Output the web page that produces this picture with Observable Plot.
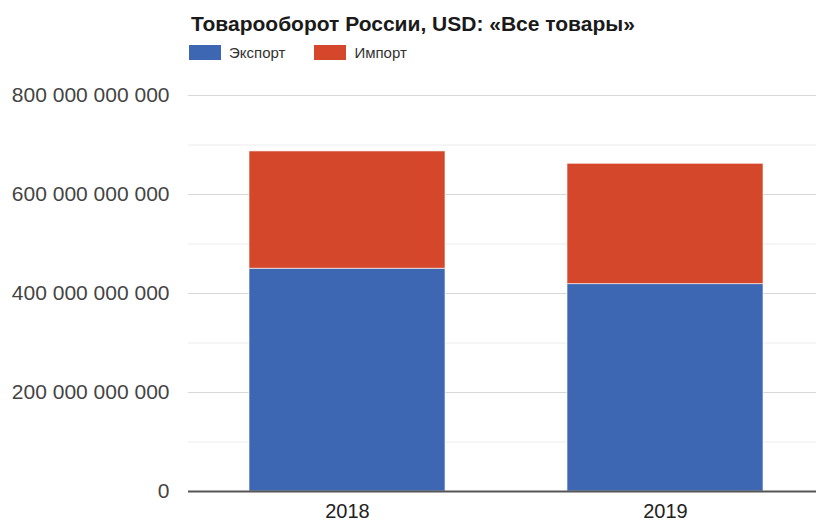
<!DOCTYPE html>
<html>
<head>
<meta charset="utf-8">
<script src="https://cdn.jsdelivr.net/npm/d3@7"></script>
<script src="https://cdn.jsdelivr.net/npm/@observablehq/plot@0.6"></script>
<style>
  html, body { margin: 0; padding: 0; background: #fff; overflow: hidden; }
  #wrap { position: relative; width: 816px; height: 522px; overflow: hidden; font-family: "Liberation Sans", Arial, sans-serif; }
  #chart { position: absolute; left: 0; top: 0; width: 824px; }
  #chart svg { display: block; max-width: none !important; height: 522px !important; }
  #title { position: absolute; left: 191px; top: 12px; font-weight: bold; font-size: 21px; color: #1a1a1a; white-space: nowrap; }
  #legend { position: absolute; left: 189px; top: 44px; display: flex; align-items: center; font-size: 15px; color: #333; }
  .item { display: flex; align-items: center; margin-right: 29px; }
  .sw { width: 32px; height: 15px; margin-right: 8px; }
</style>
</head>
<body>
<div id="wrap">
  <div id="chart"></div>
  <div id="title"></div>
  <div id="legend"></div>
</div>
<script>
const titleText = "Товарооборот России, USD: «Все товары»";
const years = ["2018", "2019"];
const seriesNames = ["Экспорт", "Импорт"];
const exportValues = [450e9, 419e9];
const importValues = [237e9, 243e9];
const seriesColors = ["#3d67b2", "#d4472a"];
const majorTicks = [0, 200e9, 400e9, 600e9, 800e9];
const minorTicks = [100e9, 300e9, 500e9, 700e9];

const rows = [];
years.forEach((y, i) => {
  rows.push({year: y, series: seriesNames[0], value: exportValues[i]});
  rows.push({year: y, series: seriesNames[1], value: importValues[i]});
});

document.getElementById("title").textContent = titleText;
const legend = document.getElementById("legend");
seriesNames.forEach((s, i) => {
  const it = document.createElement("div");
  it.className = "item";
  const sw = document.createElement("div");
  sw.className = "sw";
  sw.style.background = seriesColors[i];
  const t = document.createElement("span");
  t.textContent = s;
  it.appendChild(sw); it.appendChild(t);
  legend.appendChild(it);
});

const fmt = d => d3.format(",")(d).replace(/,/g, " ");

const chart = Plot.plot({
  width: 824,
  height: 522,
  marginLeft: 188,
  marginRight: 0,
  marginTop: 95,
  marginBottom: 31,
  style: {fontFamily: "'Liberation Sans', Arial, sans-serif", background: "white", overflow: "visible"},
  x: {domain: years, paddingInner: 0.383, paddingOuter: 0.1915},
  y: {domain: [0, 800e9]},
  color: {domain: seriesNames, range: seriesColors},
  marks: [
    Plot.ruleY(minorTicks, {stroke: "#ececec", strokeWidth: 1}),
    Plot.ruleY(majorTicks.filter(d => d > 0), {stroke: "#d8d8d8", strokeWidth: 1}),
    Plot.barY(rows, {x: "year", y: "value", fill: "series", stroke: "white", strokeWidth: 1, strokeOpacity: 0.6}),
    Plot.ruleY([0], {stroke: "#555", strokeWidth: 2}),
    Plot.axisY({ticks: majorTicks, tickFormat: fmt, tickSize: 0, tickPadding: 19, fontSize: 21, fill: "#444", label: null}),
    Plot.axisX({tickSize: 0, tickPadding: 12, fontSize: 20, fill: "#222", label: null})
  ]
});
document.getElementById("chart").appendChild(chart);
</script>
</body>
</html>
